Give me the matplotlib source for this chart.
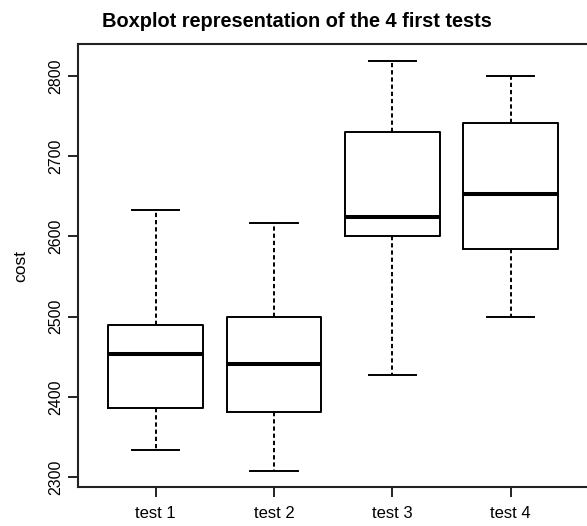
import matplotlib
matplotlib.use("Agg")
import matplotlib.pyplot as plt

plt.rcParams['font.family'] = ['Liberation Sans', 'DejaVu Sans']

# values
labels = ["test 1", "test 2", "test 3", "test 4"]
whisker_low = [2334, 2308, 2427, 2500]
q1 = [2386, 2381, 2601, 2584]
median = [2454, 2441, 2624, 2653]
q3 = [2490, 2500, 2730, 2741]
whisker_high = [2633, 2617, 2819, 2800]
yticks = [2300, 2400, 2500, 2600, 2700, 2800]

stats = []
for i in range(len(labels)):
    stats.append(dict(label=labels[i], whislo=whisker_low[i], q1=q1[i], med=median[i],
                      q3=q3[i], whishi=whisker_high[i], fliers=[]))

fig = plt.figure(figsize=(5.87, 5.26), dpi=100)
ax = fig.add_axes([0.1324, 0.0741, 0.8704, 0.8416])

pos = list(range(1, len(labels) + 1))
ax.bxp(stats, positions=pos, widths=0.8, showfliers=False,
       boxprops=dict(color='black', linewidth=1.4),
       medianprops=dict(color='black', linewidth=2.9, solid_capstyle='butt'),
       whiskerprops=dict(color='black', linewidth=1.4, linestyle=(0, (2.2, 1.5))),
       capprops=dict(color='black', linewidth=1.4),
       capwidths=0.4)

# R style: 4% extension each side
lo, hi = min(whisker_low), max(whisker_high)
ext = (hi - lo) * 0.04
ax.set_ylim(lo - ext, hi + ext)
ax.set_xlim(0.5 - 4 * 0.04, len(labels) + 0.5 + 4 * 0.04)

ax.set_yticks(yticks)
ax.set_yticklabels([str(v) for v in yticks], rotation=90, va='center', fontsize=11.5)
ax.set_xticks(pos)
ax.set_xticklabels(labels, fontsize=12)
ax.tick_params(axis='both', direction='out', length=7.5, width=1.4, color='#222222')
ax.tick_params(axis='y', pad=3)
ax.tick_params(axis='x', pad=6)
for s in ax.spines.values():
    s.set_linewidth(1.5)
    s.set_color('#222222')

ax.set_ylabel('cost', fontsize=12.5, labelpad=14)

fig.text(0.5055, 0.949, 'Boxplot representation of the 4 first tests',
         ha='center', va='baseline', fontsize=14.4, fontweight='bold')

fig.savefig('out.png', dpi=100)
